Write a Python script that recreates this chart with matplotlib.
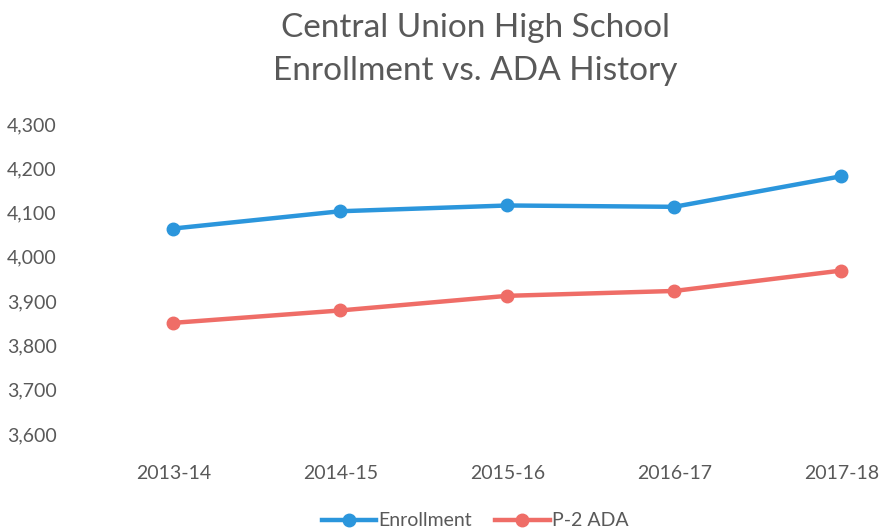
import numpy as np
import matplotlib.pyplot as plt

# school years and values
years = ['2013-14', '2014-15', '2015-16', '2016-17', '2017-18']
enrollment = [4064, 4103, 4116, 4113, 4182]
p2_ada = [3851, 3879, 3912, 3923, 3969]

plt.rcParams['font.family'] = ['Lato', 'DejaVu Sans']
txt = '#595959'

fig = plt.figure(figsize=(8.83, 5.31), dpi=100)
ax = fig.add_axes([90/883, (531-434)/531, 1 - 90/883, (434-124)/531])

x = np.arange(len(years))
ax.plot(x, enrollment, color='#2b96dc', lw=3.2, marker='o', ms=9,
        label='Enrollment')
ax.plot(x, p2_ada, color='#ef6d67', lw=3.2, marker='o', ms=9,
        label='P-2 ADA')

ax.set_xlim(-0.5, 4.25)
ax.set_ylim(3600, 4300)
ax.set_yticks(np.arange(3600, 4301, 100))
ax.set_yticklabels([f'{v:,}' for v in range(3600, 4301, 100)])
ax.set_xticks(x)
ax.set_xticklabels(years)
ax.tick_params(length=0, labelsize=14, colors=txt)
ax.tick_params(axis='x', pad=22)
ax.tick_params(axis='y', pad=24)
for s in ax.spines.values():
    s.set_visible(False)

fig.text(0.538, 0.975, 'Central Union High School\nEnrollment vs. ADA History',
         ha='center', va='top', fontsize=24, color=txt, linespacing=1.55)

fig.legend(loc='lower center', bbox_to_anchor=(0.538, -0.03), ncol=2,
           frameon=False, fontsize=14, labelcolor=txt, handlelength=2.8,
           columnspacing=1.2, handletextpad=0.1)

fig.savefig('out.png', dpi=100)
